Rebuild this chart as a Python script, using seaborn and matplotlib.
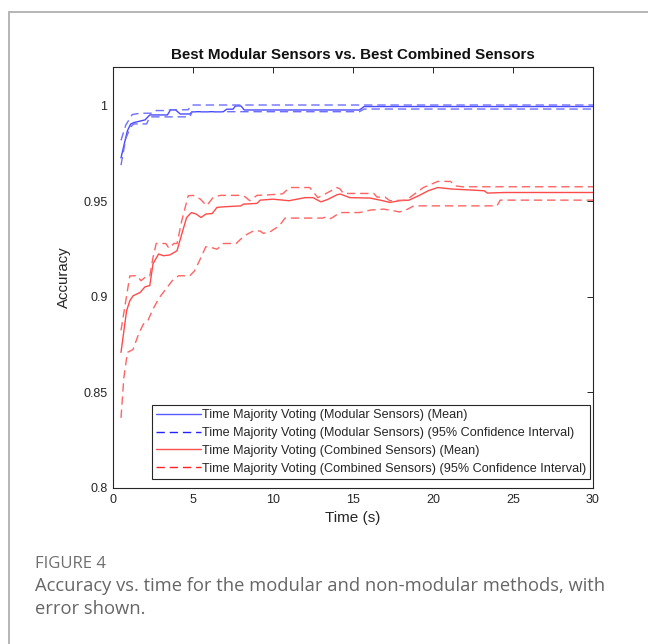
import numpy as np
import pandas as pd
import matplotlib
matplotlib.use("Agg")
import matplotlib.pyplot as plt
import seaborn as sns
from matplotlib.lines import Line2D
from matplotlib.ticker import FuncFormatter

# ---------------- data ----------------
blue_mean_t = [0.5, 0.7, 0.9, 1.1, 1.3, 2.0, 2.3, 3.4, 3.6, 3.9, 4.2, 4.8, 4.95, 6.9, 7.1, 7.5, 7.65, 8.0, 8.2, 15.4, 15.7, 30]
blue_mean_v = [0.9728, 0.980, 0.987, 0.9905, 0.9913, 0.9927, 0.9953, 0.9953, 0.998, 0.998, 0.9958, 0.9958, 0.997,
               0.997, 0.9983, 0.9983, 1.0, 1.0, 0.9979, 0.9979, 0.9997, 0.9997]

blue_up_t = [0.5, 0.8, 1.2, 1.7, 2.5, 2.7, 3.35, 3.6, 4.7, 4.9, 30]
blue_up_v = [0.982, 0.990, 0.9955, 0.9962, 0.9962, 0.9976, 0.9976, 0.998, 0.998, 1.0005, 1.0005]

blue_lo_t = [0.5, 0.8, 1.1, 1.3, 2.1, 2.3, 4.8, 4.95, 15.4, 15.7, 30]
blue_lo_v = [0.969, 0.983, 0.989, 0.9906, 0.9906, 0.9943, 0.9943, 0.997, 0.997, 0.9984, 0.9984]

red_mean_t = [0.5, 0.85, 1.05, 1.25, 1.7, 2.0, 2.3, 2.5, 2.85, 3.15, 3.55, 4.0, 4.3, 4.6, 4.9, 5.2, 5.5, 5.8, 6.2,
              6.5, 6.9, 8.0, 8.15, 9.0, 9.2, 10.0, 11.0, 12.0, 12.5, 13.0, 13.4, 14.0, 14.2, 14.8, 16.05, 16.7,
              17.3, 17.9, 18.5, 19.1, 19.7, 20.3, 21.2, 22.4, 23.2, 23.4, 24.5, 30]
red_mean_v = [0.871, 0.8928, 0.898, 0.9006, 0.9024, 0.9053, 0.906, 0.9174, 0.9225, 0.9216, 0.922, 0.9242, 0.933,
              0.9416, 0.9442, 0.9434, 0.9416, 0.9434, 0.9437, 0.9469, 0.9472, 0.9477, 0.9486, 0.949, 0.9507,
              0.9512, 0.9504, 0.952, 0.952, 0.9498, 0.951, 0.9535, 0.9539, 0.952, 0.9518, 0.9507, 0.9495,
              0.9504, 0.9507, 0.953, 0.9556, 0.9573, 0.9565, 0.956, 0.9556, 0.9544, 0.9547, 0.9547]

red_up_t = [0.5, 1.05, 1.5, 1.75, 2.1, 2.3, 2.5, 2.7, 3.3, 3.5, 3.8, 4.0, 4.3, 4.7, 5.0, 5.45, 5.85, 6.25, 6.7,
            7.9, 8.25, 8.55, 9.0, 9.8, 10.6, 11.05, 12.3, 12.8, 13.1, 14.0, 14.2, 14.4, 16.3, 16.5, 17.0, 17.3,
            18.3, 18.7, 19.4, 20.3, 21.1, 21.4, 21.8, 30]
red_up_v = [0.8825, 0.911, 0.9112, 0.9085, 0.911, 0.911, 0.9207, 0.928, 0.928, 0.9255, 0.928, 0.928, 0.940,
            0.953, 0.9532, 0.9513, 0.9478, 0.952, 0.9532, 0.9532, 0.9525, 0.9504, 0.9532, 0.9535, 0.954,
            0.9573, 0.9573, 0.952, 0.9532, 0.9573, 0.9565, 0.9542, 0.9542, 0.9523, 0.9523, 0.9504, 0.9507,
            0.953, 0.9573, 0.9605, 0.9605, 0.9582, 0.9577, 0.9577]

red_lo_t = [0.5, 0.68, 0.9, 1.25, 1.6, 1.9, 2.2, 2.5, 2.9, 3.3, 3.7, 4.1, 4.8, 5.1, 5.5, 5.8, 6.1, 6.5, 6.9, 7.7,
            8.2, 8.8, 9.2, 9.4, 9.8, 10.4, 10.75, 13.1, 13.35, 13.6, 14.2, 15.4, 16.1, 16.9, 17.5, 17.9, 18.3,
            18.8, 24.0, 24.2, 30]
red_lo_v = [0.8367, 0.8579, 0.871, 0.8725, 0.8806, 0.8858, 0.888, 0.8937, 0.8997, 0.9041, 0.9085, 0.9111, 0.9111,
            0.9137, 0.9207, 0.9263, 0.926, 0.925, 0.928, 0.928, 0.932, 0.9347, 0.9345, 0.9333, 0.934, 0.9373,
            0.9413, 0.9413, 0.942, 0.941, 0.9442, 0.9442, 0.9455, 0.946, 0.9452, 0.9445, 0.9455, 0.9477, 0.9477,
            0.9507, 0.9507]

legend_labels = [
    "Time Majority Voting (Modular Sensors) (Mean)",
    "Time Majority Voting (Modular Sensors) (95% Confidence Interval)",
    "Time Majority Voting (Combined Sensors) (Mean)",
    "Time Majority Voting (Combined Sensors) (95% Confidence Interval)",
]
title = "Best Modular Sensors vs. Best Combined Sensors"
x_ticks = [0, 5, 10, 15, 20, 25, 30]
y_ticks = [0.8, 0.85, 0.9, 0.95, 1.0]

# ---------------- style ----------------
sns.set_theme(style="white")
plt.rcParams["font.family"] = ["Liberation Sans", "DejaVu Sans"]

W, H = 648, 644
fig = plt.figure(figsize=(W / 100, H / 100), dpi=100)
fig.patch.set_facecolor("white")
ax = fig.add_axes([113 / W, 1 - 488 / H, (593 - 113) / W, (488 - 67) / H])

dash = (0, (6, 3.5))
BLUE_S, BLUE_D = "#4a4aff", "#6e6eff"
RED_S, RED_D = "#ff4a4a", "#ff6464"

series = [
    (blue_mean_t, blue_mean_v, BLUE_S, "-"),
    (blue_up_t, blue_up_v, BLUE_D, dash),
    (blue_lo_t, blue_lo_v, BLUE_D, dash),
    (red_mean_t, red_mean_v, RED_S, "-"),
    (red_up_t, red_up_v, RED_D, dash),
    (red_lo_t, red_lo_v, RED_D, dash),
]
for t, v, c, ls in series:
    df = pd.DataFrame({"t": t, "v": v})
    sns.lineplot(data=df, x="t", y="v", ax=ax, color=c, linestyle=ls, linewidth=1.0,
                 sort=False, estimator=None, legend=False)

ax.set_xlim(0, 30)
ax.set_ylim(0.8, 1.0204)
ax.set_xticks(x_ticks)
ax.set_yticks(y_ticks)
ax.yaxis.set_major_formatter(FuncFormatter(lambda v, p: f"{v:g}"))
ax.tick_params(direction="in", length=4, width=0.7, top=True, right=True,
               labelsize=9, colors="#262626", pad=4)
for s in ax.spines.values():
    s.set_color("#262626")
    s.set_linewidth(0.8)

ax.set_xlabel("Time (s)", fontsize=11, color="#262626", labelpad=4)
ax.set_ylabel("Accuracy", fontsize=10.8, color="#262626", labelpad=9)
ax.set_title(title, fontsize=10.9, fontweight="bold", color="#111111", pad=6)

handles = [
    Line2D([], [], color="#5a5aff", lw=1.0),
    Line2D([], [], color="#2222ff", lw=1.0, linestyle=dash),
    Line2D([], [], color="#ff5050", lw=1.0),
    Line2D([], [], color="#ff2222", lw=1.0, linestyle=dash),
]
leg = ax.legend(handles, legend_labels, loc="lower right", bbox_to_anchor=(0.994, 0.022),
                borderaxespad=0, fontsize=9.1, frameon=True, fancybox=False, framealpha=1,
                handlelength=3.5, handletextpad=0.1, labelspacing=0.46, borderpad=0.32)
leg.get_frame().set_edgecolor("#262626")
leg.get_frame().set_linewidth(0.8)
for txt in leg.get_texts():
    txt.set_color("#262626")

# card border
fig.add_artist(Line2D([9 / W, 9 / W], [0, 1 - 12 / H], color="#b5b5b5", lw=1.4,
                      transform=fig.transFigure))
fig.add_artist(Line2D([9 / W, 1], [1 - 12 / H, 1 - 12 / H], color="#b5b5b5", lw=1.4,
                      transform=fig.transFigure))

# caption
cap_font = ["Open Sans", "DejaVu Sans"]
fig.text(35 / W, 1 - 564 / H, "FIGURE 4", fontsize=12, color="#6f6f6f", family=cap_font,
         va="center", ha="left")
fig.text(35 / W, 1 - 586 / H, "Accuracy vs. time for the modular and non-modular methods, with",
         fontsize=13.2, color="#666666", family=cap_font, va="center", ha="left")
fig.text(35 / W, 1 - 609 / H, "error shown.", fontsize=13.2, color="#666666", family=cap_font,
         va="center", ha="left")

fig.savefig("out.png", dpi=100, facecolor="white")
